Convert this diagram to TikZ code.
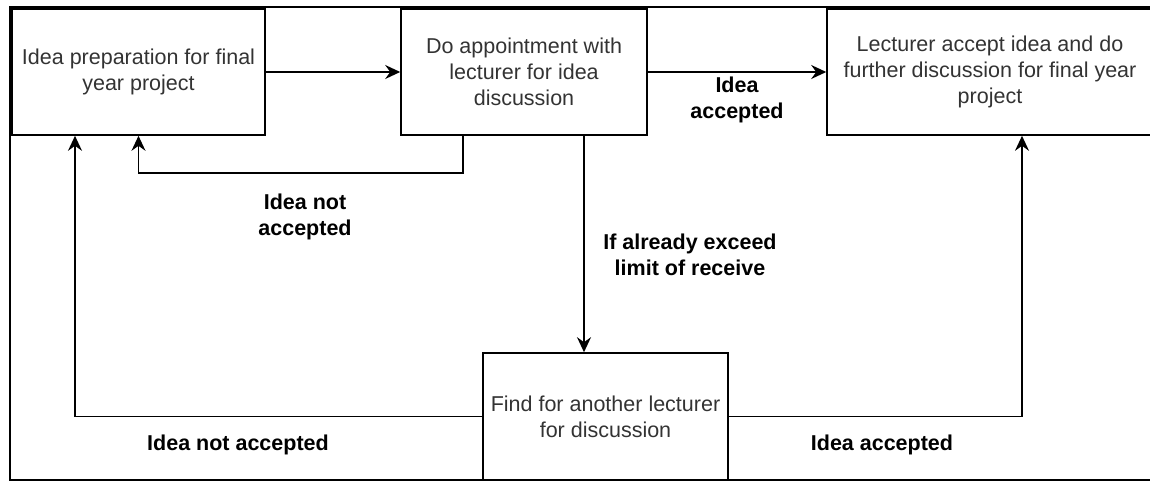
\documentclass[tikz,border=0pt]{standalone}
\usepackage{fontspec}
\setmainfont{Liberation Sans}
\usetikzlibrary{arrows.meta}

\begin{document}
\begin{tikzpicture}[x=1pt, y=-1pt,
  every node/.style={align=center, font=\fontsize{21.5}{26}\selectfont},
  stepbox/.style={draw, line width=1.6pt, minimum height=126pt, inner sep=3pt, text=black!80},
  lbl/.style={font=\fontsize{21.5}{26}\selectfont\bfseries},
  flow/.style={-{Stealth[length=15pt,width=14pt,inset=5pt]}, line width=1.6pt}]
  \useasboundingbox (0,0) rectangle (1150,481);
  % outer frame, open on the right
  \draw[line width=2.6pt] (1160,7) -- (10,7) -- (10,480) -- (1160,480);
  \node[stepbox, minimum width=253pt] (prep) at (138.5,72) {Idea preparation for final\\year project};
  \node[stepbox, minimum width=246pt] (appt) at (524,72) {Do appointment with\\lecturer for idea\\discussion};
  \node[stepbox, minimum width=326pt] (accept) at (990,72) {Lecturer accept idea and do\\further discussion for final year\\project};
  \node[stepbox, minimum width=245pt, minimum height=127pt] (find) at (605.5,416.5) {Find for another lecturer\\for discussion};
  \coordinate (back) at ([xshift=-61pt]appt.south);
  \coordinate (drop) at ([xshift=60pt]appt.south);
  \draw[flow] (prep) -- (appt);
  \draw[flow] (appt) -- (accept);
  \draw[flow] (back) |- ++(0,37) -| (prep.south);
  \draw[flow] (drop) -- (drop |- find.north);
  \draw[flow] (find.west) -| ([xshift=-63.5pt]prep.south);
  \draw[flow] (find.east) -| ([xshift=32pt]accept.south);
  \node[lbl] (okA) at (737,100) {Idea\\accepted};
  \node[lbl] (noA) at (305,217) {Idea not\\accepted};
  \node[lbl] (limit) at (690,255) {If already exceed\\limit of receive};
  \node[lbl] (noB) at (238,445) {Idea not accepted};
  \node[lbl] (okB) at (882,445) {Idea accepted};
\end{tikzpicture}
\end{document}
